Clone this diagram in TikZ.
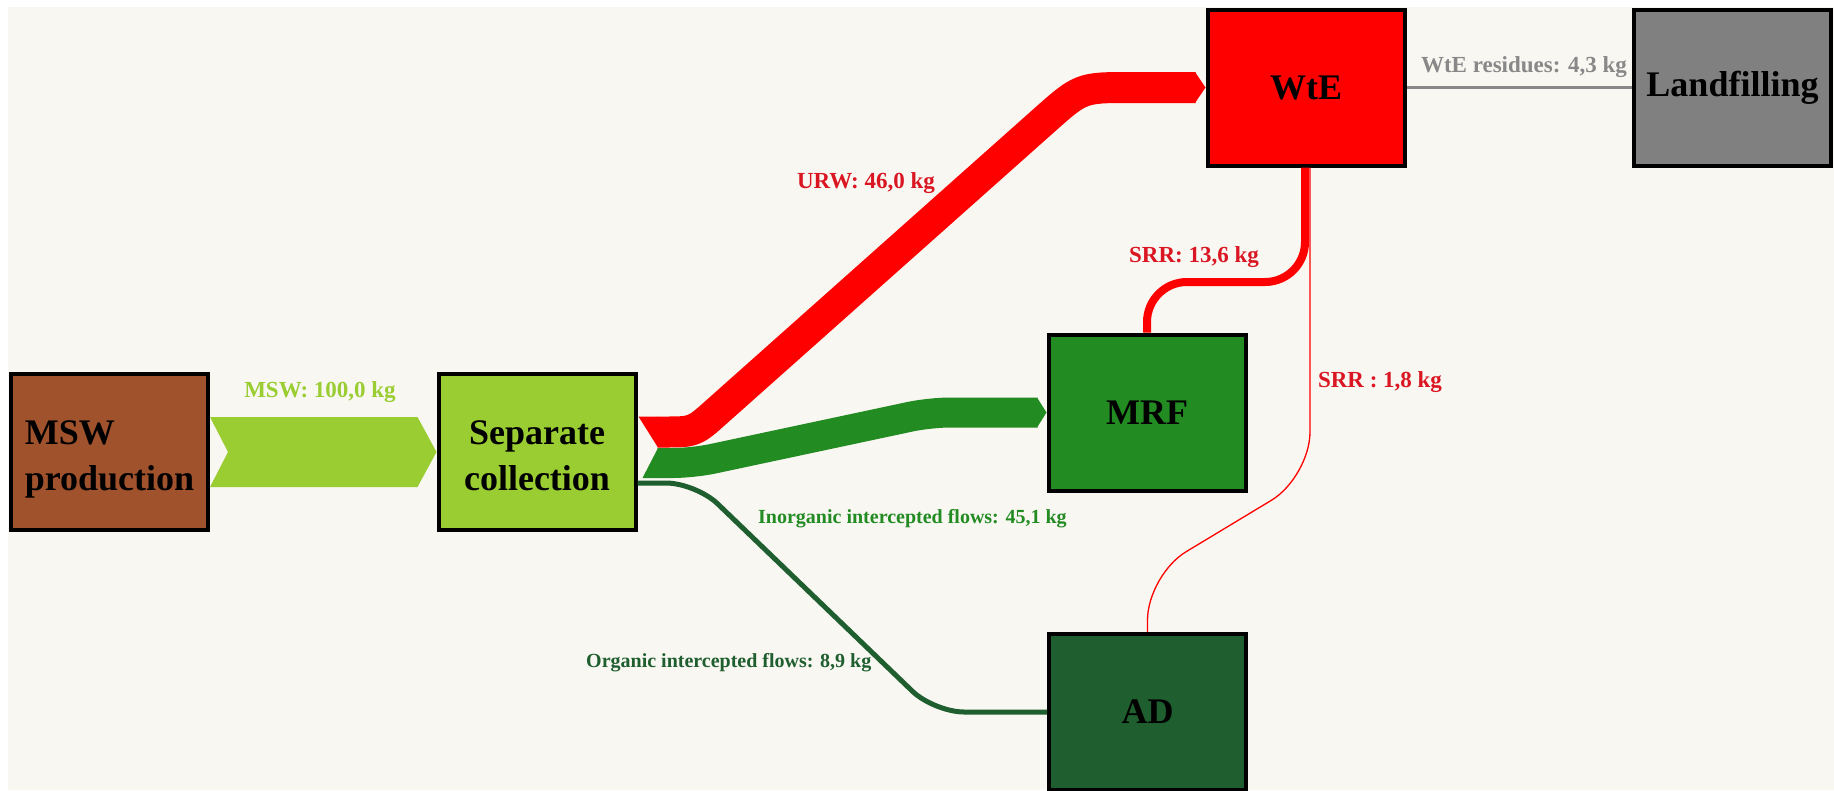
\documentclass[tikz,border=0pt]{standalone}
\usepackage{fontspec}
\setmainfont{Liberation Serif}
\usetikzlibrary{calc}
\definecolor{bgc}{RGB}{249,247,242}
\definecolor{mswbrown}{RGB}{160,82,45}
\definecolor{ygreen}{RGB}{154,205,50}
\definecolor{fgreen}{RGB}{34,139,34}
\definecolor{dgreen}{RGB}{31,95,47}
\definecolor{wred}{RGB}{255,0,0}
\definecolor{lgray}{RGB}{128,128,128}
\definecolor{labred}{RGB}{218,22,34}
\definecolor{resgray}{RGB}{136,136,136}
\begin{document}
\begin{tikzpicture}[x=1pt,y=-1pt,
  unit/.style={draw=black,line width=4pt,minimum width=197pt,minimum height=156pt,
    inner sep=0pt,align=center,font=\bfseries\fontsize{36}{46}\selectfont},
  flowlabel/.style={font=\bfseries\fontsize{23}{27}\selectfont,anchor=base,inner sep=0pt},
  smalllabel/.style={font=\bfseries\fontsize{20}{24}\selectfont,anchor=base west,inner sep=0pt},
  band/.style={line cap=butt,line join=round}]
\useasboundingbox (0,0) rectangle (1834,790);
\fill[white] (0,0) rectangle (1834,790);
\fill[bgc] (8,7) rectangle (1834,790);

% process units (two-line captions sit a little below the centre)
\node[unit,fill=mswbrown] (msw) at (109.5,452)
  {\begin{tabular}{@{}l@{}}\rule{0pt}{45pt}MSW\\production\end{tabular}};
\node[unit,fill=ygreen] (sep) at (537,452)
  {\begin{tabular}{@{}c@{}}\rule{0pt}{45pt}Separate\\collection\end{tabular}};
\node[unit,fill=wred] (wte) at (1306,87.5) {WtE};
\node[unit,fill=lgray] (land) at (1732.5,87.5) {Landfilling};
\node[unit,fill=fgreen] (mrf) at (1147,412.5) {MRF};
\node[unit,fill=dgreen] (ad) at (1147.5,712) {AD};

% MSW production -> separate collection (chevron band)
\fill[ygreen] ($(msw.east)+(0,-35)$) -- ($(sep.west)+(-19,-35)$) -- (sep.west)
  -- ($(sep.west)+(-19,35)$) -- ($(msw.east)+(0,35)$) -- ($(msw.east)+(18,0)$) -- cycle;

% URW -> WtE
\draw[band,wred,line width=31pt] ($(sep.east)+(20,-20)$) -- (664,432)
  .. controls (694,432) .. (716.4,412) -- (1043.6,120.8)
  .. controls (1081,87.5) .. (1131,87.5) -- ($(wte.west)+(-10,0)$);
\fill[wred] ($(sep.east)+(1,-35.5)$) -- ($(sep.east)+(20.5,-35.5)$) -- ($(sep.east)+(20.5,-4.5)$) -- cycle;
\fill[wred] ($(wte.west)+(-10.5,-15.5)$) -- (wte.west) -- ($(wte.west)+(-10.5,15.5)$) -- cycle;

% inorganic intercepted flows -> MRF
\draw[band,fgreen,line width=30pt,rounded corners=20] ($(sep.east)+(20,11)$) -- (693,463)
  -- (930,412.5) -- ($(mrf.west)+(-9,0)$);
\fill[fgreen] ($(sep.east)+(20.5,-4)$) -- ($(sep.east)+(20.5,26)$) -- ($(sep.east)+(5,26)$) -- cycle;
\fill[fgreen] ($(mrf.west)+(-9.5,-15)$) -- (mrf.west) -- ($(mrf.west)+(-9.5,15)$) -- cycle;

% organic intercepted flows -> AD
\draw[dgreen,line width=5pt,rounded corners=30] ($(sep.east)+(0,31)$) -- (696,483)
  -- (934,712) -- (ad.west);

% SRR from MRF and AD to WtE
\draw[wred,line width=8pt,rounded corners=40] ($(wte.south)+(-1,0)$) -- (1305,282)
  -- (1147,282) -- (mrf.north);
\draw[wred,line width=1.3pt,rounded corners=45] ($(wte.south)+(4,0)$) -- (1310,477)
  -- (1147.5,575) -- (ad.north);

% WtE residues -> landfilling
\draw[resgray,line width=3pt] (wte.east) -- (land.west);

% flow labels
\node[flowlabel,text=ygreen] (lmsw) at (320,397) {MSW: 100,0 kg};
\node[flowlabel,text=labred] (lurw) at (866,188) {URW: 46,0 kg};
\node[flowlabel,text=labred] (lsrra) at (1194,262) {SRR: 13,6 kg};
\node[flowlabel,text=labred] (lsrrb) at (1380,387) {SRR : 1,8 kg};
\node[flowlabel,text=resgray] (lres) at (1524,72) {WtE residues: 4,3 kg};
\node[smalllabel,text=fgreen] (linorg) at (758,523) {Inorganic intercepted flows: 45,1 kg};
\node[smalllabel,text=dgreen] (lorg) at (586,667) {Organic intercepted flows: 8,9 kg};
\end{tikzpicture}
\end{document}
